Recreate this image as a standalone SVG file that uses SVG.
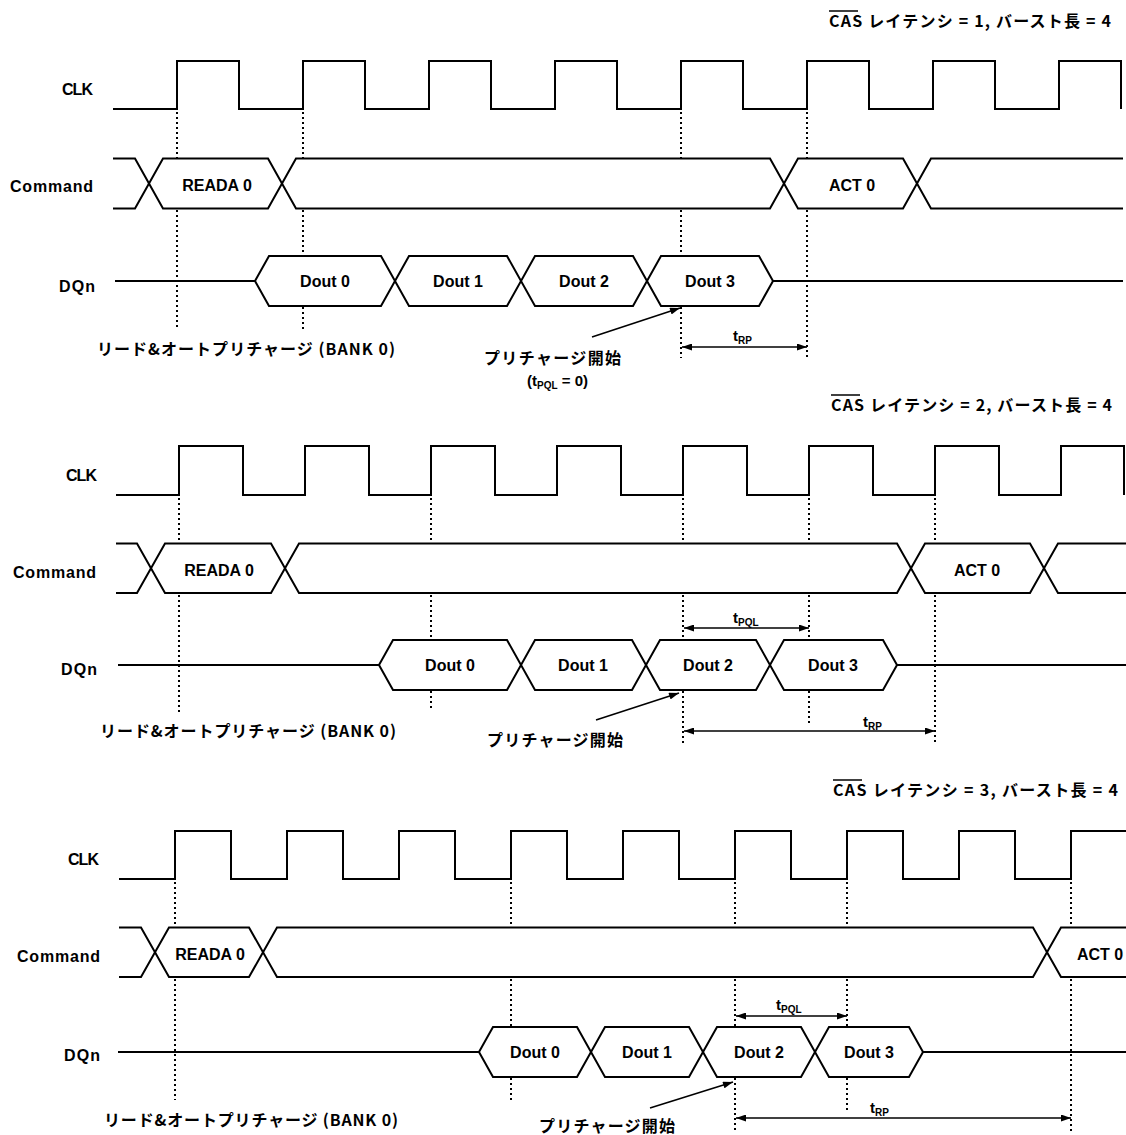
<svg xmlns="http://www.w3.org/2000/svg" width="1126" height="1135" viewBox="0 0 1126 1135">
<style>
.sig{fill:none;stroke:#000;stroke-width:2;stroke-linejoin:miter}
.dot{fill:none;stroke:#000;stroke-width:2;stroke-dasharray:2 3}
.arr{fill:none;stroke:#000;stroke-width:1.6}
.lbl{font-family:"Liberation Sans","Noto Sans CJK JP",sans-serif;font-weight:bold;font-size:16px;fill:#000}
.box{font-family:"Liberation Sans","Noto Sans CJK JP",sans-serif;font-weight:bold;font-size:16px;fill:#000;text-anchor:middle}
.jp{font-family:"Noto Sans CJK JP","Liberation Sans",sans-serif;font-weight:bold;font-size:16px;fill:#000}
.tm{font-family:"Liberation Sans","Noto Sans CJK JP",sans-serif;font-weight:bold;font-size:15px;fill:#000}
.sub{font-size:10px}
</style>
<defs>
<marker id="ah" viewBox="0 0 10 7" refX="10" refY="3.5" markerWidth="11" markerHeight="7" markerUnits="userSpaceOnUse" orient="auto-start-reverse">
<path d="M0,0 L10,3.5 L0,7 z" fill="#000"/>
</marker>
</defs>
<rect width="1126" height="1135" fill="#fff"/>

<!-- ===== Panel 1 ===== -->
<g id="p1-title">
<text class="jp" x="829" y="27" textLength="282" lengthAdjust="spacing">CAS レイテンシ = 1, バースト長 = 4</text>
<line x1="829" y1="11" x2="858" y2="11" stroke="#000" stroke-width="1.5"/>
</g>
<g id="p1-clk">
<text class="lbl" x="62" y="95" textLength="31">CLK</text>
<path class="sig" d="M113,109 H177 V61 H239 V109 H303 V61 H365 V109 H429 V61 H491 V109 H555 V61 H617 V109 H681 V61 H743 V109 H807 V61 H869 V109 H933 V61 H995 V109 H1059 V61 H1121 V109"/>
</g>
<g id="p1-command">
<text class="lbl" x="10" y="192" textLength="83">Command</text>
<path class="sig" d="M113,158.5 H135 L163,208.5 H268 L296,158.5 H770 L798,208.5 H903 L931,158.5 H1123"/>
<path class="sig" d="M113,208.5 H135 L163,158.5 H268 L296,208.5 H770 L798,158.5 H903 L931,208.5 H1123"/>
<text class="box" x="217" y="191">READA 0</text>
<text class="box" x="852" y="191">ACT 0</text>
</g>
<g id="p1-dqn">
<text class="lbl" x="59" y="292" textLength="36">DQn</text>
<path class="sig" d="M115,281 H255 L269,256 H381 L409,306 H507 L535,256 H633 L661,306 H759 L773,281 H1123"/>
<path class="sig" d="M255,281 L269,306 H381 L409,256 H507 L535,306 H633 L661,256 H759 L773,281"/>
<text class="box" x="325" y="287">Dout 0</text>
<text class="box" x="458" y="287">Dout 1</text>
<text class="box" x="584" y="287">Dout 2</text>
<text class="box" x="710" y="287">Dout 3</text>
</g>
<g id="p1-notes">
<text class="jp" x="97" y="355" textLength="298" lengthAdjust="spacing">リード&amp;オートプリチャージ (BANK 0)</text>
<text class="jp" x="484" y="364" textLength="137" lengthAdjust="spacing">プリチャージ開始</text>
<text class="tm" x="527" y="386">(t<tspan class="sub" dy="3">PQL</tspan><tspan dy="-3"> = 0)</tspan></text>
<text class="tm" x="733" y="341">t<tspan class="sub" dy="3">RP</tspan></text>
</g>

<!-- ===== Panel 2 ===== -->
<g id="p2-title">
<text class="jp" x="831" y="411" textLength="281" lengthAdjust="spacing">CAS レイテンシ = 2, バースト長 = 4</text>
<line x1="831" y1="395" x2="860" y2="395" stroke="#000" stroke-width="1.5"/>
</g>
<g id="p2-clk">
<text class="lbl" x="66" y="481" textLength="31">CLK</text>
<path class="sig" d="M116,495 H179 V446 H243 V495 H305 V446 H369 V495 H431 V446 H495 V495 H557 V446 H621 V495 H683 V446 H747 V495 H809 V446 H873 V495 H935 V446 H999 V495 H1061 V446 H1124 V495"/>
</g>
<g id="p2-command">
<text class="lbl" x="13" y="578" textLength="83">Command</text>
<path class="sig" d="M116,543.5 H137 L165,593 H271 L299,543.5 H897 L925,593 H1030 L1058,543.5 H1126"/>
<path class="sig" d="M116,593 H137 L165,543.5 H271 L299,593 H897 L925,543.5 H1030 L1058,593 H1126"/>
<text class="box" x="219" y="576">READA 0</text>
<text class="box" x="977" y="576">ACT 0</text>
</g>
<g id="p2-dqn">
<text class="lbl" x="61" y="675" textLength="36">DQn</text>
<path class="sig" d="M118,665 H379 L393,640 H507 L535,690 H632 L660,640 H756 L784,690 H883 L897,665 H1126"/>
<path class="sig" d="M379,665 L393,690 H507 L535,640 H632 L660,690 H756 L784,640 H883 L897,665"/>
<text class="box" x="450" y="671">Dout 0</text>
<text class="box" x="583" y="671">Dout 1</text>
<text class="box" x="708" y="671">Dout 2</text>
<text class="box" x="833" y="671">Dout 3</text>
</g>
<g id="p2-notes">
<text class="jp" x="100" y="737" textLength="296" lengthAdjust="spacing">リード&amp;オートプリチャージ (BANK 0)</text>
<text class="jp" x="487" y="746" textLength="136" lengthAdjust="spacing">プリチャージ開始</text>
<text class="tm" x="733" y="623">t<tspan class="sub" dy="3">PQL</tspan></text>
<text class="tm" x="863" y="727">t<tspan class="sub" dy="3">RP</tspan></text>
</g>

<!-- ===== Panel 3 ===== -->
<g id="p3-title">
<text class="jp" x="833" y="796" textLength="285" lengthAdjust="spacing">CAS レイテンシ = 3, バースト長 = 4</text>
<line x1="833" y1="780" x2="862" y2="780" stroke="#000" stroke-width="1.5"/>
</g>
<g id="p3-clk">
<text class="lbl" x="68" y="865" textLength="31">CLK</text>
<path class="sig" d="M119,879 H175 V831 H231 V879 H287 V831 H343 V879 H399 V831 H455 V879 H511 V831 H567 V879 H623 V831 H679 V879 H735 V831 H791 V879 H847 V831 H903 V879 H959 V831 H1015 V879 H1071 V831 H1126"/>
</g>
<g id="p3-command">
<text class="lbl" x="17" y="962" textLength="83">Command</text>
<path class="sig" d="M119,927.5 H141 L169,977 H249 L277,927.5 H1033 L1061,977 H1126"/>
<path class="sig" d="M119,977 H141 L169,927.5 H249 L277,977 H1033 L1061,927.5 H1126"/>
<text class="box" x="210" y="960">READA 0</text>
<text class="box" x="1100" y="960">ACT 0</text>
</g>
<g id="p3-dqn">
<text class="lbl" x="64" y="1061" textLength="36">DQn</text>
<path class="sig" d="M118,1052 H479 L493,1027 H577 L605,1077 H689 L717,1027 H801 L829,1077 H909 L923,1052 H1126"/>
<path class="sig" d="M479,1052 L493,1077 H577 L605,1027 H689 L717,1077 H801 L829,1027 H909 L923,1052"/>
<text class="box" x="535" y="1058">Dout 0</text>
<text class="box" x="647" y="1058">Dout 1</text>
<text class="box" x="759" y="1058">Dout 2</text>
<text class="box" x="869" y="1058">Dout 3</text>
</g>
<g id="p3-notes">
<text class="jp" x="104" y="1126" textLength="294" lengthAdjust="spacing">リード&amp;オートプリチャージ (BANK 0)</text>
<text class="jp" x="539" y="1132" textLength="136" lengthAdjust="spacing">プリチャージ開始</text>
<text class="tm" x="776" y="1010">t<tspan class="sub" dy="3">PQL</tspan></text>
<text class="tm" x="870" y="1113">t<tspan class="sub" dy="3">RP</tspan></text>
</g>

<!-- ===== Connectors ===== -->
<g id="connectors">
<path class="dot" d="M177,112 V158 M177,210 V330 M303,112 V158 M303,210 V255 M303,307 V330 M681,112 V158 M681,210 V255 M681,307 V358 M807,112 V158 M807,210 V360"/>
<path class="dot" d="M179,498 V543 M179,595 V712 M431,498 V543 M431,595 V639 M431,691 V708 M683,498 V543 M683,595 V640 M683,691 V745 M809,498 V543 M809,595 V640 M809,691 V723 M935,498 V543 M935,595 V745"/>
<path class="dot" d="M175,882 V927 M175,979 V1100 M511,882 V927 M511,979 V1026 M511,1078 V1103 M735,882 V927 M735,979 V1026 M735,1078 V1133 M847,882 V927 M847,979 V1026 M847,1078 V1112 M1071,882 V927 M1071,979 V1133"/>
<line class="arr" x1="682" y1="347" x2="807" y2="347" marker-start="url(#ah)" marker-end="url(#ah)"/>
<line class="arr" x1="684" y1="628" x2="809" y2="628" marker-start="url(#ah)" marker-end="url(#ah)"/>
<line class="arr" x1="684" y1="731" x2="935" y2="731" marker-start="url(#ah)" marker-end="url(#ah)"/>
<line class="arr" x1="736" y1="1016" x2="847" y2="1016" marker-start="url(#ah)" marker-end="url(#ah)"/>
<line class="arr" x1="736" y1="1118" x2="1071" y2="1118" marker-start="url(#ah)" marker-end="url(#ah)"/>
<line class="arr" x1="592" y1="337" x2="680" y2="308" marker-end="url(#ah)"/>
<line class="arr" x1="596" y1="720" x2="679" y2="693" marker-end="url(#ah)"/>
<line class="arr" x1="650" y1="1108" x2="733" y2="1082" marker-end="url(#ah)"/>
</g>
</svg>
